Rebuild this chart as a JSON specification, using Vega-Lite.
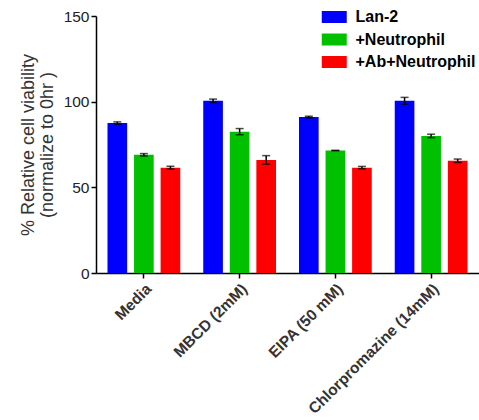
{
  "$schema": "https://vega.github.io/schema/vega-lite/v6.json",
  "autosize": "none",
  "width": 383,
  "height": 257,
  "padding": {"left": 96, "top": 16, "right": 0, "bottom": 147},
  "background": "white",
  "config": {
    "view": {"stroke": null},
    "font": "Liberation Sans"
  },
  "data": {
    "values": [
      {"cat": "Media", "series": "Lan-2", "value": 87.5, "lo": 86.8, "hi": 88.2},
      {"cat": "Media", "series": "+Neutrophil", "value": 69, "lo": 68.3, "hi": 69.7},
      {"cat": "Media", "series": "+Ab+Neutrophil", "value": 61.5, "lo": 60.7, "hi": 62.3},
      {"cat": "MBCD (2mM)", "series": "Lan-2", "value": 100.5, "lo": 99.5, "hi": 101.5},
      {"cat": "MBCD (2mM)", "series": "+Neutrophil", "value": 82.5, "lo": 80.7, "hi": 84.3},
      {"cat": "MBCD (2mM)", "series": "+Ab+Neutrophil", "value": 66, "lo": 63.5, "hi": 68.5},
      {"cat": "EIPA (50 mM)", "series": "Lan-2", "value": 91, "lo": 90.5, "hi": 91.5},
      {"cat": "EIPA (50 mM)", "series": "+Neutrophil", "value": 71.5, "lo": 71.5, "hi": 71.5},
      {"cat": "EIPA (50 mM)", "series": "+Ab+Neutrophil", "value": 61.5, "lo": 60.8, "hi": 62.2},
      {"cat": "Chlorpromazine (14mM)", "series": "Lan-2", "value": 100.5, "lo": 98.5, "hi": 102.5},
      {"cat": "Chlorpromazine (14mM)", "series": "+Neutrophil", "value": 80, "lo": 79, "hi": 81},
      {"cat": "Chlorpromazine (14mM)", "series": "+Ab+Neutrophil", "value": 65.5, "lo": 64.5, "hi": 66.5}
    ]
  },
  "encoding": {
    "x": {
      "field": "cat",
      "type": "nominal",
      "sort": ["Media", "MBCD (2mM)", "EIPA (50 mM)", "Chlorpromazine (14mM)"],
      "scale": {"paddingInner": 0.24, "paddingOuter": 0.12},
      "axis": {
        "title": null,
        "labelAngle": -45,
        "labelFontSize": 15.5,
        "labelFontWeight": "bold",
        "labelColor": "#333333",
        "domainColor": "black",
        "domainWidth": 1.5,
        "tickColor": "black",
        "tickWidth": 1.5,
        "tickSize": 5,
        "labelPadding": 3
      }
    },
    "xOffset": {
      "field": "series",
      "type": "nominal",
      "sort": ["Lan-2", "+Neutrophil", "+Ab+Neutrophil"],
      "scale": {"paddingInner": 0.26, "paddingOuter": 0}
    }
  },
  "layer": [
    {
      "mark": {"type": "bar"},
      "encoding": {
        "y": {
          "field": "value",
          "type": "quantitative",
          "scale": {"domain": [0, 150], "nice": false},
          "axis": {
            "values": [0, 50, 100, 150],
            "grid": false,
            "title": ["% Relative cell viability", "(normalize to 0hr )"],
            "titleFontSize": 18,
            "titleLineHeight": 19,
            "titleFontWeight": "normal",
            "titleColor": "#333333",
            "titlePadding": 7,
            "labelFontSize": 15.5,
            "labelColor": "#222222",
            "labelPadding": 2,
            "domainColor": "black",
            "domainWidth": 1.5,
            "tickColor": "black",
            "tickWidth": 1.5,
            "tickSize": 5
          }
        },
        "color": {
          "field": "series",
          "type": "nominal",
          "sort": ["Lan-2", "+Neutrophil", "+Ab+Neutrophil"],
          "scale": {
            "domain": ["Lan-2", "+Neutrophil", "+Ab+Neutrophil"],
            "range": ["#0000ff", "#00c000", "#ff0000"]
          },
          "legend": {
            "title": null,
            "orient": "none",
            "legendX": 230.25,
            "legendY": -7,
            "symbolType": "M-2,-0.96L2,-0.96L2,0.96L-2,0.96Z",
            "symbolSize": 156,
            "symbolStrokeWidth": 0,
            "symbolOpacity": 1,
            "labelFontSize": 16,
            "labelFontWeight": "bold",
            "labelColor": "black",
            "labelOffset": 13.25,
            "rowPadding": 6.5
          }
        }
      }
    },
    {
      "mark": {"type": "rule", "color": "black", "strokeWidth": 1.5},
      "encoding": {
        "y": {"field": "lo", "type": "quantitative"},
        "y2": {"field": "hi"}
      }
    },
    {
      "mark": {"type": "tick", "color": "black", "thickness": 1.5, "size": 8},
      "encoding": {
        "y": {"field": "lo", "type": "quantitative"}
      }
    },
    {
      "mark": {"type": "tick", "color": "black", "thickness": 1.5, "size": 8},
      "encoding": {
        "y": {"field": "hi", "type": "quantitative"}
      }
    }
  ]
}
